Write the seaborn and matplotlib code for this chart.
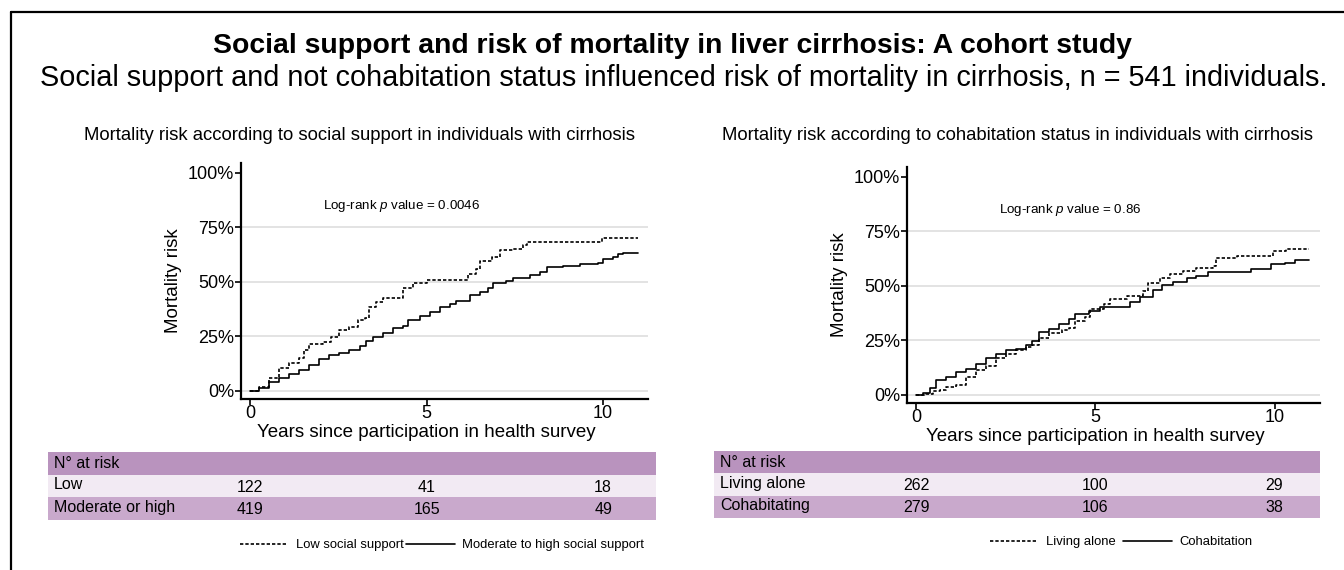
import matplotlib
matplotlib.use('Agg')
import matplotlib.pyplot as plt
import matplotlib.transforms as mtransforms
from matplotlib.lines import Line2D
from matplotlib.patches import Rectangle
from matplotlib.ticker import PercentFormatter
import seaborn as sns
import pandas as pd

# data (years, cumulative mortality %)
low_t = [0, 0.26, 0.54, 0.82, 1.1, 1.39, 1.53, 1.68, 2.05, 2.3, 2.53, 2.81, 3.05, 3.24, 3.38,
         3.57, 3.76, 4.33, 4.6, 5.0, 6.17, 6.41, 6.5, 6.84, 7.07, 7.45, 7.73, 7.83, 9.96, 11.0]
low_y = [0, 2, 6, 10.5, 12.7, 15, 18.7, 21.5, 22.5, 24.8, 27.8, 29.4, 32.4, 33.3, 38.4,
         40.8, 42.4, 47, 49.3, 51, 53.7, 56.1, 59.5, 61.3, 64.7, 65.3, 66.7, 68.5, 70, 70]
mod_t = [0, 0.26, 0.54, 0.82, 1.1, 1.39, 1.68, 1.96, 2.24, 2.53, 2.81, 3.1, 3.29, 3.47, 3.76,
         4.04, 4.33, 4.46, 4.8, 5.09, 5.37, 5.65, 5.84, 6.22, 6.5, 6.74, 6.88, 7.26, 7.45, 7.93,
         8.21, 8.4, 8.86, 9.35, 9.86, 10.0, 10.28, 10.43, 10.57, 11.0]
mod_y = [0, 1.4, 4.3, 5.9, 7.8, 9.6, 11.9, 14.6, 16.4, 17.5, 18.7, 20.5, 23, 24.8, 26.4,
         28.7, 29.7, 32.4, 34.5, 36.2, 38.3, 39.8, 41.2, 43.8, 45.3, 47.3, 49.6, 50.2, 51.9, 53,
         54.5, 56.7, 57.2, 58.3, 58.6, 60.6, 61.3, 62.8, 63.3, 63.3]
alone_t = [0, 0.28, 0.46, 0.65, 0.83, 1.11, 1.39, 1.67, 1.94, 2.22, 2.5, 2.78, 3.06, 3.24, 3.43,
           3.7, 4.07, 4.26, 4.44, 4.72, 4.86, 5.23, 5.42, 5.88, 6.34, 6.48, 6.8, 7.08, 7.45, 7.82,
           8.29, 8.38, 8.94, 9.95, 10.32, 10.97]
alone_y = [0, 0.5, 2, 2.3, 3.5, 4.6, 8.4, 11.5, 13.3, 16.8, 18.8, 20.6, 22.2, 22.9, 26,
           28.3, 29.8, 30.5, 34.1, 35.9, 39.3, 41.9, 43.9, 45.4, 47.7, 51.2, 53.8, 55.3, 56.8, 58.3,
           59, 62.6, 63.6, 65.9, 67, 67]
cohab_t = [0, 0.19, 0.37, 0.56, 0.83, 1.11, 1.39, 1.67, 1.94, 2.22, 2.5, 2.78, 3.06, 3.24, 3.43,
           3.7, 3.98, 4.26, 4.44, 4.81, 5.14, 5.97, 6.25, 6.62, 6.85, 7.18, 7.55, 7.82, 8.15, 9.35,
           9.91, 10.28, 10.56, 10.97]
cohab_y = [0, 0.8, 3, 6.8, 8, 10.6, 11.8, 14.4, 17.1, 18.9, 20.5, 20.9, 22.7, 24.7, 28.8,
           30.3, 32.6, 34.8, 37.1, 38.6, 40.5, 42.6, 45, 48, 50.5, 51.9, 53.6, 54.5, 56.5, 57.6,
           59.9, 60.5, 61.8, 61.8]

risk_years = [0, 5, 10]
left_rows = ['Low', 'Moderate or high']
left_counts = [[122, 41, 18], [419, 165, 49]]
right_rows = ['Living alone', 'Cohabitating']
right_counts = [[262, 100, 29], [279, 106, 38]]

left_groups = ['Low social support', 'Moderate to high social support']
right_groups = ['Living alone', 'Cohabitation']

sns.set_theme(style='white')
plt.rcParams['font.family'] = ['Liberation Sans', 'DejaVu Sans']
plt.rcParams['mathtext.fontset'] = 'custom'
plt.rcParams['mathtext.it'] = 'Liberation Sans:italic'
plt.rcParams['mathtext.rm'] = 'Liberation Sans'
plt.rcParams['text.color'] = 'black'
plt.rcParams['axes.labelcolor'] = 'black'
plt.rcParams['xtick.color'] = 'black'
plt.rcParams['ytick.color'] = 'black'

HEAD = '#b993be'
ROW1 = '#f2eaf3'
ROW2 = '#c9a9cc'


def make_df(t1, y1, g1, t2, y2, g2):
    a = pd.DataFrame({'time': t1, 'risk': y1, 'group': g1})
    b = pd.DataFrame({'time': t2, 'risk': y2, 'group': g2})
    return pd.concat([a, b], ignore_index=True)


def km_panel(ax, df, groups, pval, title, title_x, leg_xy, colsp):
    sns.lineplot(data=df, x='time', y='risk', hue='group', style='group',
                 hue_order=groups, style_order=groups,
                 palette=['black', 'black'],
                 dashes={groups[0]: (2, 1.2), groups[1]: ''},
                 estimator=None, sort=False, drawstyle='steps-post',
                 linewidth=1.2, ax=ax)
    for g in [0, 25, 50, 75]:
        ax.axhline(g, color='#e3e3e3', lw=1.4, zorder=0)
    ax.set_xlim(-0.26, 11.27)
    ax.set_ylim(-3.7, 104.5)
    ax.set_xticks([0, 5, 10])
    ax.set_yticks([0, 25, 50, 75, 100])
    ax.yaxis.set_major_formatter(PercentFormatter(decimals=0))
    ax.tick_params(axis='both', labelsize=13, length=4, width=1.2, color='black',
                   left=True, bottom=True, pad=1)
    ax.tick_params(axis='x', pad=0)
    for s in ['top', 'right']:
        ax.spines[s].set_visible(False)
    for s in ['left', 'bottom']:
        ax.spines[s].set_color('black')
        ax.spines[s].set_linewidth(1.6)
    ax.set_xlabel('Years since participation in health survey', fontsize=13.5)
    # label sits under the middle tick, as in the original
    ax.xaxis.set_label_coords(5, -0.105,
                              transform=mtransforms.blended_transform_factory(ax.transData, ax.transAxes))
    ax.set_ylabel('Mortality risk', fontsize=13.5, labelpad=4)
    ax.text(4.3, 85, 'Log-rank $p$ value = ' + pval, fontsize=9.6, ha='center', va='center')
    fig.text(title_x, 1 - 135 / 570, title, fontsize=13.3, ha='center', va='center')
    sns.move_legend(ax, 'center', bbox_to_anchor=leg_xy, bbox_transform=fig.transFigure,
                    ncol=2, frameon=False, title=None, fontsize=9.4,
                    handlelength=3.7, handletextpad=0.6, columnspacing=colsp)


def risk_table(ax, rect, rows, counts):
    tab = fig.add_axes(rect)
    tab.set_xlim(0, 1)
    tab.set_ylim(0, 3)
    tab.axis('off')
    for i, c in enumerate([ROW2, ROW1, HEAD]):
        tab.add_patch(Rectangle((0, i), 1, 1, facecolor=c, edgecolor='none'))
    tab.text(0.01, 2.5, 'N° at risk', fontsize=11.5, va='center', ha='left')
    tr = mtransforms.blended_transform_factory(ax.transData, tab.transData)
    for r, (name, vals) in enumerate(zip(rows, counts)):
        yc = 1.5 - r
        tab.text(0.01, yc + 0.05, name, fontsize=11.5, va='center', ha='left')
        for x, v in zip(risk_years, vals):
            tab.text(x, yc - 0.05, str(v), fontsize=11.5, va='center', ha='center', transform=tr)


fig = plt.figure(figsize=(13.44, 5.70), dpi=100)
fig.patch.set_facecolor('white')

ax1 = fig.add_axes([241 / 1344, 1 - 399 / 570, 407 / 1344, 236 / 570])
ax2 = fig.add_axes([907 / 1344, 1 - 403 / 570, 413 / 1344, 236 / 570])

km_panel(ax1, make_df(low_t, low_y, left_groups[0], mod_t, mod_y, left_groups[1]),
         left_groups, '0.0046',
         'Mortality risk according to social support in individuals with cirrhosis',
         360 / 1344, (442 / 1344, 1 - 545 / 570), 0.2)
km_panel(ax2, make_df(alone_t, alone_y, right_groups[0], cohab_t, cohab_y, right_groups[1]),
         right_groups, '0.86',
         'Mortality risk according to cohabitation status in individuals with cirrhosis',
         1017 / 1344, (1121 / 1344, 1 - 542 / 570), 0.6)

risk_table(ax1, [48 / 1344, 1 - 520 / 570, 608 / 1344, 68 / 570], left_rows, left_counts)
risk_table(ax2, [714 / 1344, 1 - 518 / 570, 606 / 1344, 67 / 570], right_rows, right_counts)

fig.text(672.5 / 1344, 1 - 46 / 570, 'Social support and risk of mortality in liver cirrhosis: A cohort study',
         fontsize=20.4, fontweight='bold', ha='center', va='center')
fig.text(684 / 1344, 1 - 78 / 570,
         'Social support and not cohabitation status influenced risk of mortality in cirrhosis, n = 541 individuals.',
         fontsize=20.8, ha='center', va='center')

# frame around the figure (only top and left are inside the picture)
fig.add_artist(Line2D([11 / 1344, 1], [1 - 12 / 570, 1 - 12 / 570], color='black', lw=1.6,
                      transform=fig.transFigure))
fig.add_artist(Line2D([11 / 1344, 11 / 1344], [0, 1 - 12 / 570], color='black', lw=1.6,
                      transform=fig.transFigure))

fig.savefig('out.png', dpi=100, facecolor='white')
